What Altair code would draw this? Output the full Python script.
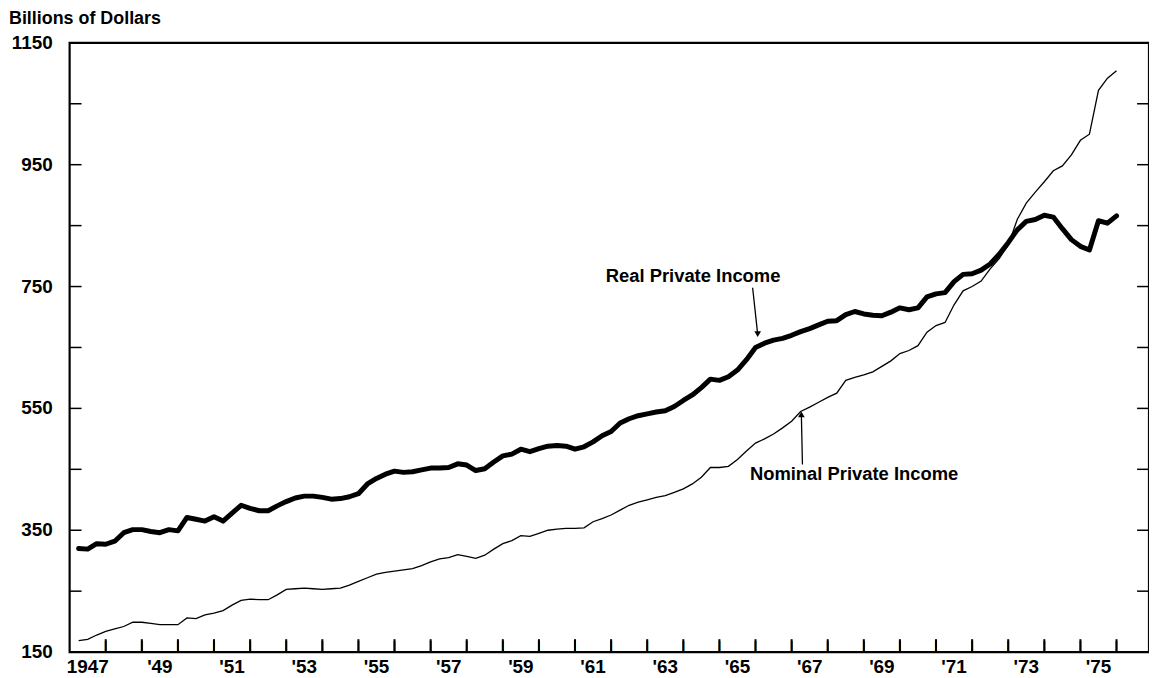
import altair as alt
import pandas as pd

# ---------------- data (quarterly 1947Q1-1975Q4) ----------------
years = list(range(1947, 1976))
quarters = [f"{y}Q{q}" for y in years for q in range(1, 5)]

real_income = [
    320, 319, 328, 327,   # 1947
    332, 346, 351, 351,   # 1948
    348, 346, 351, 349,   # 1949
    371, 368, 365, 372,   # 1950
    365, 378, 391, 386,   # 1951
    382, 382, 390, 397,   # 1952
    403, 406, 406, 404,   # 1953
    401, 402, 405, 410,   # 1954
    426, 435, 442, 447,   # 1955
    445, 446, 449, 452,   # 1956
    452, 453, 459, 457,   # 1957
    448, 451, 462, 472,   # 1958
    475, 483, 479, 484,   # 1959
    488, 489, 488, 483,   # 1960
    487, 495, 505, 512,   # 1961
    526, 533, 538, 541,   # 1962
    544, 546, 553, 563,   # 1963
    572, 584, 598, 596,   # 1964
    602, 613, 630, 650,   # 1965
    657, 662, 665, 670,   # 1966
    676, 681, 687, 693,   # 1967
    694, 704, 709, 705,   # 1968
    703, 702, 708, 715,   # 1969
    712, 715, 733, 738,   # 1970
    740, 758, 770, 771,   # 1971
    777, 787, 803, 822,   # 1972
    843, 857, 860, 867,   # 1973
    864, 845, 827, 816,   # 1974
    810, 858, 854, 866,   # 1975
]

nominal_income = [
    169, 171, 178, 184,   # 1947
    188, 192, 199, 199,   # 1948
    197, 195, 195, 195,   # 1949
    206, 205, 211, 214,   # 1950
    218, 227, 235, 237,   # 1951
    236, 236, 244, 253,   # 1952
    254, 255, 254, 253,   # 1953
    254, 255, 260, 266,   # 1954
    272, 278, 281, 283,   # 1955
    285, 287, 292, 298,   # 1956
    303, 305, 310, 307,   # 1957
    304, 309, 319, 328,   # 1958
    333, 341, 340, 345,   # 1959
    350, 352, 353, 353,   # 1960
    354, 364, 369, 375,   # 1961
    383, 391, 396, 400,   # 1962
    404, 407, 412, 418,   # 1963
    426, 437, 453, 453,   # 1964
    455, 466, 480, 493,   # 1965
    500, 508, 518, 529,   # 1966
    545, 552, 560, 568,   # 1967
    575, 596, 601, 605,   # 1968
    610, 619, 628, 640,   # 1969
    645, 653, 675, 686,   # 1970
    691, 720, 743, 750,   # 1971
    759, 779, 796, 818,   # 1972
    860, 887, 905, 922,   # 1973
    940, 948, 966, 990,   # 1974
    1000, 1072, 1092, 1104,  # 1975
]

y_label_values = [150, 350, 550, 750, 950, 1150]
y_labels = ["150", "350", "550", "750", "950", "1150"]
y_tick_values = [150, 250, 350, 450, 550, 650, 750, 850, 950, 1050, 1150]
x_tick_years = [1948.0 + i for i in range(29)]
x_label_pos = [1947.5 + 2 * i for i in range(15)]
x_labels = ["1947", "'49", "'51", "'53", "'55", "'57", "'59", "'61",
            "'63", "'65", "'67", "'69", "'71", "'73", "'75"]

annot_text = ["Real Private Income", "Nominal Private Income"]
annot_t = [1964.27, 1968.73]
annot_v = [767, 442]
arrow_t = [1965.92, 1967.30]
arrow_v = [748, 458]
arrow_t2 = [1966.06, 1967.27]
arrow_v2 = [672, 540]
arrow_shape = ["triangle-down", "triangle-up"]

# ---------------- build ----------------
def quarter_end(label):
    y, q = label.split("Q")
    return int(y) + int(q) / 4.0

df = pd.DataFrame({
    "quarter": quarters,
    "t": [quarter_end(q) for q in quarters],
    "real": real_income,
    "nominal": nominal_income,
})

W, H = 1086, 613
FONT = "Liberation Sans"
Y_MIN, Y_MAX = 150, 1150
xscale = alt.Scale(domain=[1947, 1976.9], nice=False, zero=False)
yscale = alt.Scale(domain=[Y_MIN, Y_MAX], nice=False, zero=False)
TICK_PX = 13

X = alt.X("t:Q", scale=xscale, axis=None)

real_line = alt.Chart(df).mark_line(
    color="black", strokeWidth=5, strokeJoin="round", strokeCap="round"
).encode(x=X, y=alt.Y("real:Q", scale=yscale, axis=None))

nominal_line = alt.Chart(df).mark_line(color="black", strokeWidth=1.3).encode(
    x=X, y=alt.Y("nominal:Q", scale=yscale, axis=None)
)

ydf = pd.DataFrame({"v": y_tick_values})
left_ticks = alt.Chart(ydf).mark_rule(color="black", strokeWidth=1.5).encode(
    y=alt.Y("v:Q", scale=yscale, axis=None), x=alt.value(0), x2=alt.value(12)
)
right_ticks = alt.Chart(ydf).mark_rule(color="black", strokeWidth=1.5).encode(
    y=alt.Y("v:Q", scale=yscale, axis=None), x=alt.value(W - 12), x2=alt.value(W)
)

ylab_df = pd.DataFrame({"v": y_label_values, "label": y_labels})
y_text = alt.Chart(ylab_df).mark_text(
    font=FONT, fontSize=19, fontWeight="bold", color="black",
    align="right", baseline="middle"
).encode(
    y=alt.Y("v:Q", scale=yscale, axis=None), x=alt.value(-17), text="label:N"
)

# combined x-axis table: label rows and tick rows
xaxis_df = pd.DataFrame({
    "pos": x_label_pos + x_tick_years,
    "label": x_labels + ["|"] * len(x_tick_years),
    "kind": ["label"] * len(x_label_pos) + ["tick"] * len(x_tick_years),
})

x_text = alt.Chart(xaxis_df).transform_filter(
    alt.datum.kind == "label"
).mark_text(
    font=FONT, fontSize=19, fontWeight="bold", color="black", baseline="middle"
).encode(
    x=alt.X("pos:Q", scale=xscale, axis=None), y=alt.value(H + 15), text="label:N"
)

tick_rules = alt.Chart(xaxis_df).transform_filter(
    alt.datum.kind == "tick"
).mark_rule(color="black", strokeWidth=2).encode(
    x=alt.X("pos:Q", scale=xscale, axis=None),
    y=alt.value(H - TICK_PX),
    y2=alt.value(H),
)

tick_glyphs = alt.Chart(xaxis_df).transform_filter(
    alt.datum.kind == "tick"
).mark_text(
    font=FONT, fontSize=12, fontWeight="bold", color="black", baseline="bottom"
).encode(
    x=alt.X("pos:Q", scale=xscale, axis=None), y=alt.value(H + 1), text="label:N"
)

adf = pd.DataFrame({
    "text": annot_text, "t": annot_t, "v": annot_v,
    "at": arrow_t, "av": arrow_v, "at2": arrow_t2, "av2": arrow_v2,
    "shape": arrow_shape,
})
annot = alt.Chart(adf).mark_text(
    font=FONT, fontSize=18.5, fontWeight="bold", color="black", baseline="middle"
).encode(
    x=alt.X("t:Q", scale=xscale, axis=None),
    y=alt.Y("v:Q", scale=yscale, axis=None),
    text="text:N",
)
arrows = alt.Chart(adf).mark_rule(color="black", strokeWidth=1.3).encode(
    x=alt.X("at:Q", scale=xscale, axis=None),
    y=alt.Y("av:Q", scale=yscale, axis=None),
    x2="at2:Q", y2="av2:Q",
)
heads = alt.Chart(adf).mark_point(filled=True, color="black", size=45, opacity=1).encode(
    x=alt.X("at2:Q", scale=xscale, axis=None),
    y=alt.Y("av2:Q", scale=yscale, axis=None),
    shape=alt.Shape("shape:N", scale=None, legend=None),
)

ytitle = alt.Chart(pd.DataFrame({"title": ["Billions of Dollars"]})).mark_text(
    font=FONT, fontSize=18, fontWeight="bold", color="black", align="left", baseline="middle"
).encode(x=alt.value(-61), y=alt.value(-24), text="title:N")

chart = alt.layer(
    nominal_line, real_line, left_ticks, right_ticks, tick_rules, tick_glyphs,
    y_text, x_text, annot, arrows, heads, ytitle,
).properties(
    width=W, height=H,
    autosize=alt.AutoSizeParams(type="none"),
    padding={"left": 62, "top": 33, "right": 0, "bottom": 22},
    background="white",
).configure_view(stroke="black", strokeWidth=2.2)

chart.save("out.html", embed_options={"renderer": "svg", "actions": False})
